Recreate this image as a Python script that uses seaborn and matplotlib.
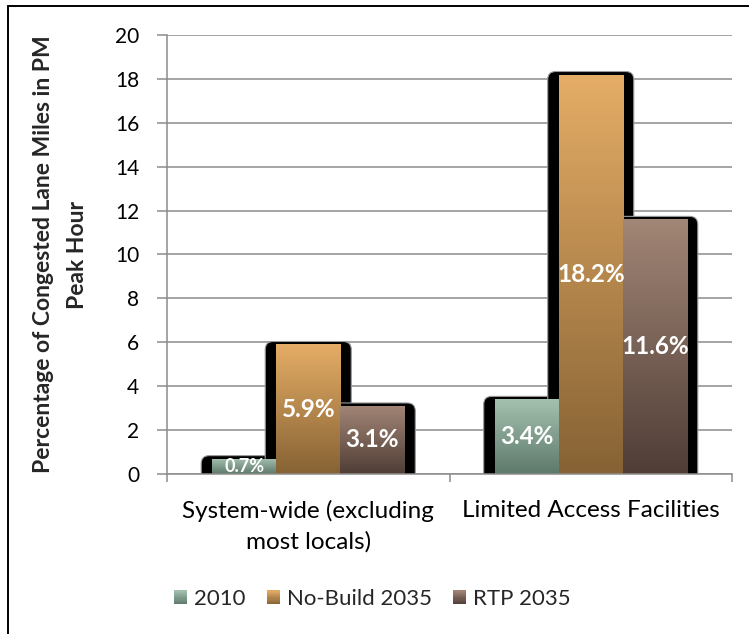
import numpy as np
import pandas as pd
import matplotlib
matplotlib.use("Agg")
import matplotlib.pyplot as plt
import seaborn as sns
from matplotlib.patches import FancyBboxPatch, Rectangle
from matplotlib.colors import LinearSegmentedColormap, to_rgb
from matplotlib.legend_handler import HandlerBase
from matplotlib.lines import Line2D

# ---- data ----
categories = ["System-wide (excluding\nmost locals)", "Limited Access Facilities"]
series = ["2010", "No-Build 2035", "RTP 2035"]
values_2010 = [0.7, 3.4]
values_nobuild = [5.9, 18.2]
values_rtp = [3.1, 11.6]
labels_2010 = ["0.7%", "3.4%"]
labels_nobuild = ["5.9%", "18.2%"]
labels_rtp = ["3.1%", "11.6%"]
yticks = [0, 2, 4, 6, 8, 10, 12, 14, 16, 18, 20]
ylabel = "Percentage of Congested Lane Miles in PM\nPeak Hour"

# gradient colours (top, bottom)
grad = {
    "2010": ("#a4c1b0", "#5e796a"),
    "No-Build 2035": ("#e5ad66", "#866234"),
    "RTP 2035": ("#a28676", "#4f3d36"),
}

sns.set_theme(style="white")
plt.rcParams["font.family"] = ["Lato", "DejaVu Sans"]

df = pd.DataFrame({
    "category": categories * 3,
    "series": [s for s in series for _ in categories],
    "value": values_2010 + values_nobuild + values_rtp,
})
all_labels = [labels_2010, labels_nobuild, labels_rtp]

W, H = 749, 634
fig = plt.figure(figsize=(W / 100, H / 100), dpi=100)
ax_l, ax_b, ax_w, ax_h = 167 / W, (H - 474) / H, (732 - 167) / W, (474 - 35) / H
ax = fig.add_axes([ax_l, ax_b, ax_w, ax_h])

mid = {s: tuple((np.array(to_rgb(a)) + np.array(to_rgb(b))) / 2) for s, (a, b) in grad.items()}
sns.barplot(data=df, x="category", y="value", hue="series", order=categories,
            hue_order=series, width=0.68, ax=ax, legend=False, saturation=1,
            errorbar=None, palette=mid)

grey = "#8c8c8c"
ax.set_xlim(-0.5, 1.5)
ax.set_ylim(0, 20)
ax.set_yticks(yticks)
ax.set_axisbelow(True)
ax.yaxis.grid(True, color=grey, lw=1.1)
ax.xaxis.grid(False)
for s in ["top", "right"]:
    ax.spines[s].set_visible(False)
for s in ["left", "bottom"]:
    ax.spines[s].set_color(grey)
    ax.spines[s].set_linewidth(1.1)

# pixel -> data conversion
px_x = 2.0 / (ax_w * W)
px_y = 20.0 / (ax_h * H)
padx, padtop, rad = 11, 3, 8

for ci, cont in enumerate(ax.containers):
    s = series[ci]
    top, bot = grad[s]
    cmap = LinearSegmentedColormap.from_list(s, [bot, top])
    for bar in cont.patches:
        x0, w, h = bar.get_x(), bar.get_width(), bar.get_height()
        sh = FancyBboxPatch((x0 - padx * px_x, -1), w + 2 * padx * px_x, h + 1 + padtop * px_y,
                            boxstyle=f"round,pad=0,rounding_size={rad * px_x}",
                            mutation_aspect=px_y / px_x, fc="black", ec="#9a9a9a",
                            lw=0.8, zorder=1.5)
        ax.add_patch(sh)
        bar.set_zorder(2)
        bar.set_edgecolor("none")
        im = ax.imshow(np.linspace(0, 1, 256).reshape(-1, 1), cmap=cmap,
                       extent=[x0, x0 + w, 0, h], origin="lower", aspect="auto",
                       zorder=2.1, interpolation="bilinear")
        im.set_clip_path(bar)
    texts = ax.bar_label(cont, labels=all_labels[ci], label_type="center",
                         color="white", fontweight="bold", fontsize=17.5, zorder=3)
    for t, bar in zip(texts, cont.patches):
        if bar.get_height() < 1.0:
            t.set_fontsize(13)

ax.set_xlim(-0.5, 1.5)
ax.set_ylim(0, 20)

ax.set_xlabel("")
ax.set_ylabel(ylabel, fontweight="bold", fontsize=16.5, linespacing=1.75)
ax.yaxis.set_label_coords(-0.14, 0.5)

ax.tick_params(axis="y", which="major", length=7, width=1.1, color=grey,
               labelsize=15, pad=13, left=True, labelcolor="black")
ax.set_xticks([0, 1])
ax.set_xticklabels(categories, fontsize=17.5, linespacing=1.5)
ax.set_xticks([-0.5, 0.5, 1.5], minor=True)
ax.tick_params(axis="x", which="major", length=0, pad=19, labelcolor="black")
ax.tick_params(axis="x", which="minor", length=6, width=1.1, color=grey, bottom=True)


class GradHandler(HandlerBase):
    def create_artists(self, legend, orig_handle, xdescent, ydescent, width, height, fontsize, trans):
        top, bot = grad[orig_handle]
        a, b = np.array(to_rgb(top)), np.array(to_rgb(bot))
        n = 12
        side = min(width, height)
        x = -xdescent + (width - side) / 2
        y = -ydescent + (height - side) / 2
        arts = []
        for i in range(n):
            c = b + (a - b) * (i + 0.5) / n
            r = Rectangle((x, y + side * i / n), side, side / n + 0.2, fc=c, ec="none",
                          transform=trans)
            arts.append(r)
        return arts


fig.legend(series, series, handler_map={s: GradHandler() for s in series},
           loc="center", bbox_to_anchor=(0.497, 0.055), ncol=3, frameon=False,
           fontsize=16, handlelength=0.6, handleheight=0.6, handletextpad=0.3,
           columnspacing=0.95)

# partial outer frame (top and left edges)
fig.add_artist(Line2D([8 / W, 8 / W], [0, 1 - 6 / H], color="black", lw=1.4,
                      transform=fig.transFigure))
fig.add_artist(Line2D([8 / W, 1], [1 - 6 / H, 1 - 6 / H], color="black", lw=1.4,
                      transform=fig.transFigure))

fig.savefig("out.png", dpi=100)
